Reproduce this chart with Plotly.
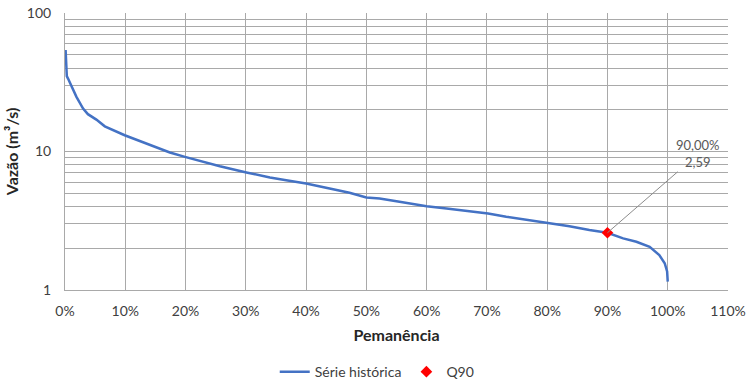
import math
import plotly.graph_objects as go

# Flow duration curve (permanence in %, flow in m³/s)
permanencia = [0.1, 0.3, 0.5, 1.1, 1.9, 3.0, 3.8, 5.2, 6.6, 9.9, 14.9, 17.4, 19.9,
               22.9, 25.7, 30.1, 34.0, 36.7, 40.0, 43.9, 47.2, 50.0, 52.2, 55.5,
               60.0, 63.3, 66.6, 70.2, 73.2, 76.5, 80.4, 83.7, 87.0, 90.0, 92.6,
               94.8, 97.0, 98.6, 99.5, 99.9, 100.0]
vazao = [54.0, 35.0, 33.6, 29.2, 24.8, 20.4, 18.6, 17.0, 15.2, 13.1, 10.8, 9.84, 9.14,
         8.41, 7.83, 7.06, 6.49, 6.21, 5.88, 5.41, 5.03, 4.66, 4.58, 4.33,
         4.03, 3.88, 3.73, 3.57, 3.38, 3.20, 3.03, 2.89, 2.71, 2.59, 2.36,
         2.23, 2.05, 1.79, 1.56, 1.36, 1.15]

q90_perm = [90.0]
q90_vazao = [2.59]

x_ticks = list(range(0, 111, 10))
x_labels = [f"{v}%" for v in x_ticks]

FONT = "Lato, 'Open Sans', sans-serif"
GRID = "#a9a9a9"

fig = go.Figure()
fig.add_trace(go.Scatter(
    x=permanencia, y=vazao, mode="lines", name="Série histórica",
    line=dict(color="#4472C4", width=2.5),
))
fig.add_trace(go.Scatter(
    x=q90_perm, y=q90_vazao, mode="markers", name="Q90",
    marker=dict(symbol="diamond", color="#FF0000", size=9),
))

fig.add_annotation(
    x=q90_perm[0], y=math.log10(q90_vazao[0]), xref="x", yref="y",
    text=f"{q90_perm[0]:.2f}%".replace(".", ",") + "<br>" + f"{q90_vazao[0]:.2f}".replace(".", ","),
    showarrow=True, arrowhead=0, arrowwidth=1, arrowcolor="#8c8c8c",
    ax=91, ay=-79, align="center",
    font=dict(family=FONT, size=13, color="#595959"),
)

fig.update_layout(
    width=747, height=384,
    margin=dict(l=65, r=19, t=13, b=94, autoexpand=False),
    paper_bgcolor="white", plot_bgcolor="white",
    font=dict(family=FONT, size=14, color="#404040"),
    legend=dict(orientation="h", x=0.505, xref="container", xanchor="center",
                y=0.031, yref="container", yanchor="middle",
                font=dict(family=FONT, size=14, color="#404040"),
                itemwidth=30),
)
fig.update_xaxes(
    range=[0, 110], tickvals=x_ticks, ticktext=x_labels,
    showgrid=True, gridcolor=GRID, gridwidth=1,
    showline=True, linecolor=GRID, linewidth=1,
    ticks="", zeroline=False, ticklabelstandoff=8,
    title=dict(text="<b>Pemanência</b>", font=dict(family=FONT, size=16, color="#262626"), standoff=12),
)
fig.update_yaxes(
    type="log", range=[0, 2], dtick=1,
    tickvals=[1, 10, 100], ticktext=["1", "10", "100"],
    showgrid=True, gridcolor=GRID, gridwidth=1,
    minor=dict(dtick="D1", showgrid=True, gridcolor=GRID, gridwidth=1, ticks=""),
    showline=True, linecolor=GRID, linewidth=1,
    ticks="", zeroline=False, ticklabelstandoff=10,
    title=dict(text="<b>Vazão (m³/s)</b>", font=dict(family=FONT, size=16, color="#262626"), standoff=4),
)

fig.write_html("out.html")
